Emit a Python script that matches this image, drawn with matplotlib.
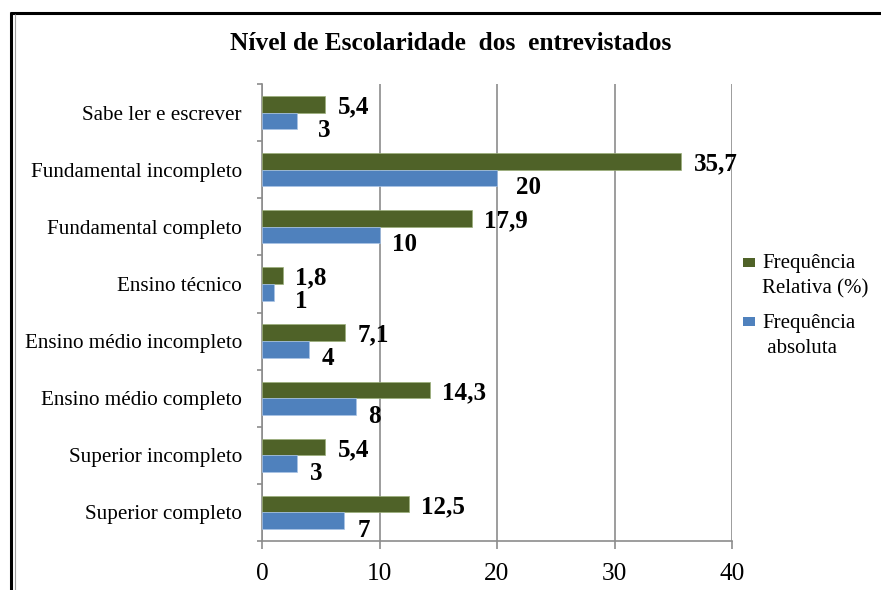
import numpy as np
import matplotlib
matplotlib.use("Agg")
import matplotlib.pyplot as plt
from matplotlib.lines import Line2D
from matplotlib.patches import Rectangle

# ---------------- data ----------------
categories = ["Sabe ler e escrever", "Fundamental incompleto", "Fundamental completo",
              "Ensino técnico", "Ensino médio incompleto", "Ensino médio completo",
              "Superior incompleto", "Superior completo"]
freq_relativa = [5.4, 35.7, 17.9, 1.8, 7.1, 14.3, 5.4, 12.5]
freq_absoluta = [3, 20, 10, 1, 4, 8, 3, 7]
x_ticks = [0, 10, 20, 30, 40]
title = "Nível de Escolaridade  dos  entrevistados"
legend_rel = ["Frequência", "Relativa (%)"]
legend_abs = ["Frequência", " absoluta"]

# ---------------- style ----------------
GREEN = "#4F6228"
BLUE = "#4F81BD"
GRAY = "#8C8C8C"
FONT = "Liberation Serif"
W, H = 881, 590
DPI = 100

plt.rcParams["font.family"] = [FONT, "DejaVu Serif"]

fig = plt.figure(figsize=(W / DPI, H / DPI), dpi=DPI)

def fx(px):
    return px / W

def fy(py):
    return 1 - py / H

ax_l, ax_r, ax_t, ax_b = 262, 732, 84, 541
ax = fig.add_axes([fx(ax_l), fy(ax_b), fx(ax_r - ax_l), (ax_b - ax_t) / H])

n = len(categories)
ypos = np.arange(n)[::-1].astype(float)
h = 0.292

ax.barh(ypos + h / 2, freq_relativa, height=h, color=GREEN,
        edgecolor="#9BAF7A", linewidth=0.5, zorder=3)
ax.barh(ypos - h / 2, freq_absoluta, height=h, color=BLUE,
        edgecolor="#A9C4E6", linewidth=0.5, zorder=3)

ax.set_xlim(0, 40)
ax.set_ylim(-0.5, n - 0.5)

# vertical gridlines
ax.set_xticks(x_ticks)
ax.set_xticklabels([str(t) for t in x_ticks], fontsize=18.3)
ax.xaxis.grid(True, color=GRAY, linewidth=1.2, zorder=0)
ax.set_axisbelow(True)
ax.tick_params(axis="x", direction="out", length=5.8, width=1.2, color=GRAY,
               pad=10, labelcolor="black")

# y ticks: marks at boundaries, labels at centers
ax.set_yticks(np.arange(-0.5, n, 1.0))
ax.set_yticklabels([])
ax.set_yticks(ypos, minor=True)
ax.set_yticklabels(categories, minor=True, fontsize=15.2)
ax.tick_params(axis="y", which="major", direction="out", length=3.6, width=1.2, color=GRAY)
ax.tick_params(axis="y", which="minor", length=0, pad=14.5)

for s in ["top", "right"]:
    ax.spines[s].set_visible(False)
for s in ["left", "bottom"]:
    ax.spines[s].set_color(GRAY)
    ax.spines[s].set_linewidth(1.2)

# value labels
px2pt = 72.0 / DPI
abs_dx_px = [21, 19, 13, 21, 13, 12, 13, 13]
for i in range(n):
    lab_r = f"{freq_relativa[i]:.1f}".replace(".", ",")
    ax.annotate(lab_r, xy=(freq_relativa[i], ypos[i] + h / 2),
                xytext=(12 * px2pt, -2.5 * px2pt), textcoords="offset points",
                ha="left", va="center", fontsize=18, fontweight="bold", zorder=5)
    ax.annotate(str(freq_absoluta[i]), xy=(freq_absoluta[i], ypos[i] - h / 2),
                xytext=(abs_dx_px[i] * px2pt, -9.5 * px2pt), textcoords="offset points",
                ha="left", va="center", fontsize=18, fontweight="bold", zorder=5)

# title
fig.text(fx(450.5), fy(43), title, ha="center", va="center",
         fontsize=18.3, fontweight="bold")

# legend (manual)
fig.add_artist(Rectangle((fx(743), fy(267)), fx(12), 9 / H, transform=fig.transFigure,
                         facecolor=GREEN, edgecolor="none"))
fig.add_artist(Rectangle((fx(743), fy(326)), fx(12), 9 / H, transform=fig.transFigure,
                         facecolor=BLUE, edgecolor="none"))
fig.text(fx(762), fy(268), legend_rel[0], ha="left", va="baseline", fontsize=15)
fig.text(fx(762), fy(293), legend_rel[1], ha="left", va="baseline", fontsize=15)
fig.text(fx(762), fy(328), legend_abs[0], ha="left", va="baseline", fontsize=15)
fig.text(fx(762), fy(353), legend_abs[1], ha="left", va="baseline", fontsize=15)

# outer frame (cut at right/bottom)
fig.add_artist(Line2D([fx(10), fx(881)], [fy(12.5), fy(12.5)], transform=fig.transFigure,
                      color="black", linewidth=2.2, solid_capstyle="butt"))
fig.add_artist(Line2D([fx(11), fx(11)], [fy(11.5), fy(590)], transform=fig.transFigure,
                      color="black", linewidth=2.2, solid_capstyle="butt"))
fig.add_artist(Line2D([fx(15), fx(15)], [fy(14), fy(590)], transform=fig.transFigure,
                      color="#A0A0A0", linewidth=0.8, solid_capstyle="butt"))

fig.savefig("out.png", dpi=DPI)
